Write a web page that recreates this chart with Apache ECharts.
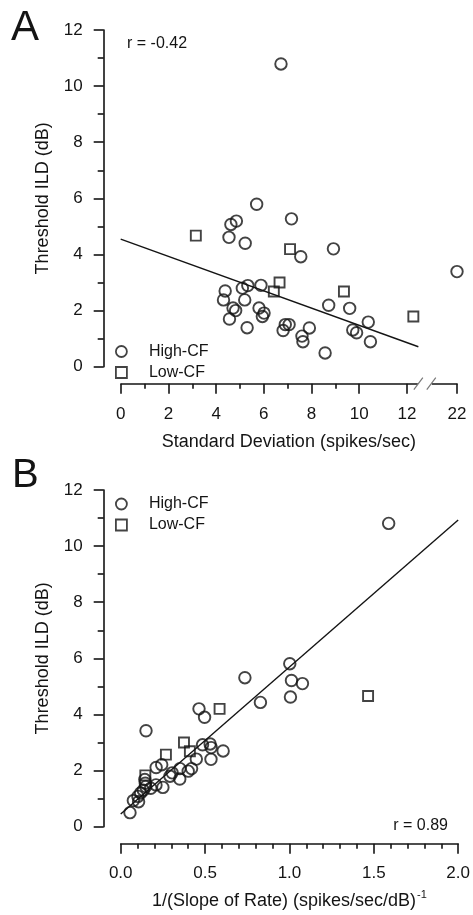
<!DOCTYPE html>
<html><head><meta charset="utf-8">
<script src="https://cdn.jsdelivr.net/npm/echarts@6/dist/echarts.min.js"></script>
<style>html,body{margin:0;padding:0;background:#fff}#c{width:473px;height:915px}</style>
</head><body><div id="c"></div>
<script>
// ---- Panel A: Threshold ILD vs Standard Deviation ----
const aHighCF = [
  [4.54,4.61],[4.62,5.07],[4.85,5.19],[5.70,5.79],[7.16,5.27],[6.72,10.79],
  [5.22,4.40],[7.55,3.92],[8.92,4.20],[22,3.39],[4.38,2.70],[4.31,2.38],
  [5.10,2.80],[5.33,2.89],[5.88,2.90],[5.20,2.38],[4.71,2.09],[4.82,2.00],
  [4.56,1.70],[5.80,2.09],[6.01,1.91],[5.94,1.79],[5.30,1.39],[6.90,1.50],
  [7.06,1.50],[6.81,1.29],[7.91,1.38],[7.60,1.09],[7.64,0.89],[8.57,0.49],
  [8.72,2.19],[9.60,2.08],[10.38,1.59],[9.73,1.31],[9.89,1.21],[10.47,0.89]
];
const aLowCF = [[3.15,4.67],[7.10,4.19],[6.66,3.00],[6.42,2.68],[9.36,2.68],[12.27,1.79]];
const aFit = [[0,4.55],[12.48,0.71]];
const aXTicks = [0,2,4,6,8,10,12,22];
const aBreak = {start:12.5, end:20.9};
const aR = 'r = -0.42';

// ---- Panel B: Threshold ILD vs 1/(Slope of Rate) ----
const bHighCF = [
  [1.588,10.81],[0.736,5.31],[1.002,5.81],[1.012,5.21],[1.077,5.10],[1.006,4.62],
  [0.828,4.43],[0.464,4.20],[0.497,3.90],[0.150,3.42],[0.485,2.92],[0.530,2.95],
  [0.536,2.82],[0.607,2.70],[0.535,2.40],[0.448,2.41],[0.210,2.11],[0.243,2.21],
  [0.351,2.07],[0.420,2.07],[0.400,1.98],[0.305,1.92],[0.292,1.80],[0.350,1.70],
  [0.250,1.40],[0.055,0.50],[0.075,0.93],[0.106,0.89],[0.102,1.08],[0.118,1.20],
  [0.134,1.30],[0.148,1.43],[0.146,1.55],[0.178,1.37],[0.209,1.49],[0.143,1.68]
];
const bLowCF = [[1.466,4.66],[0.586,4.20],[0.375,3.00],[0.410,2.69],[0.268,2.57],[0.146,1.83]];
const bFit = [[0,0.45],[2.0,10.93]];
const bR = 'r = 0.89';

const yTicks = [0,2,4,6,8,10,12];
const seriesNames = ['High-CF','Low-CF'];

const INK = '#141414';
const FONT = '"Liberation Sans", Arial, Helvetica, sans-serif';

const chart = echarts.init(document.getElementById('c'), null, {renderer:'canvas'});

function yAxis(gi){
  return {
    gridIndex: gi, type:'value', min: yTicks[0], max: yTicks[yTicks.length-1], interval: 2,
    offset: 17,
    axisLine:{show:true, onZero:false, lineStyle:{color:INK, width:1.6}},
    axisTick:{show:true, length:10, lineStyle:{color:INK, width:1.6}},
    minorTick:{show:true, splitNumber:2, length:6, lineStyle:{color:INK, width:1.6}},
    axisLabel:{margin:21, fontSize:17, color:INK, fontFamily:FONT},
    splitLine:{show:false},
    name:'Threshold ILD (dB)', nameLocation:'middle', nameGap:52, nameRotate:90,
    nameTextStyle:{fontSize:18, color:INK, fontFamily:FONT}
  };
}

const symStyle = {color:'rgba(0,0,0,0)', borderColor:INK, borderWidth:1.9};

function legend(top){
  return {data:seriesNames, orient:'vertical', left:115, top:top, padding:0,
    itemWidth:11, itemHeight:11, itemGap:5, selectedMode:false,
    itemStyle:{borderWidth:1.8},
    textStyle:{fontSize:16, color:INK, fontFamily:FONT, padding:[0,0,0,17]}};
}

const baseGraphic = [
  {type:'text', left:11, top:7, style:{text:'A', fontSize:42, fill:INK, fontFamily:FONT}},
  {type:'text', left:12, top:456, style:{text:'B', fontSize:40, fill:INK, fontFamily:FONT}},
  {type:'text', left:127, top:36, style:{text:aR, fontSize:16, fill:INK, fontFamily:FONT}},
  {type:'text', right:25, top:818, style:{text:bR, fontSize:16, fill:INK, fontFamily:FONT}}
];

const option = {
  animation:false,
  backgroundColor:'#fff',
  textStyle:{fontFamily:FONT},
  grid:[
    {left:120.7, top:30, width:336.3, height:336.7},
    {left:120.7, top:490, width:338, height:336.7}
  ],
  xAxis:[
    {
      gridIndex:0, type:'value', min:0, max:22, interval:2, offset:17,
      breaks:[{start:aBreak.start, end:aBreak.end, gap:0.5}],
      breakArea:{show:false},
      axisLine:{show:true, onZero:false, lineStyle:{color:INK, width:1.6}},
      axisTick:{show:true, length:10, lineStyle:{color:INK, width:1.6}, customValues: aXTicks},
      minorTick:{show:true, splitNumber:2, length:5, lineStyle:{color:INK, width:1.6}},
      axisLabel:{margin:22, fontSize:17, color:INK, fontFamily:FONT, customValues: aXTicks},
      splitLine:{show:false},
      name:'Standard Deviation (spikes/sec)', nameLocation:'middle', nameGap:49,
      nameTextStyle:{fontSize:18, color:INK, fontFamily:FONT}
    },
    {
      gridIndex:1, type:'value', min:0, max:2, interval:0.5, offset:17,
      axisLine:{show:true, onZero:false, lineStyle:{color:INK, width:1.6}},
      axisTick:{show:true, length:10, lineStyle:{color:INK, width:1.6}},
      minorTick:{show:true, splitNumber:5, length:5, lineStyle:{color:INK, width:1.6}},
      axisLabel:{margin:21, fontSize:17, color:INK, fontFamily:FONT, formatter:v=>v.toFixed(1)},
      splitLine:{show:false},
      name:'1/(Slope of Rate) (spikes/sec/dB){sup|-1}', nameLocation:'middle', nameGap:46,
      nameTextStyle:{fontSize:18, color:INK, fontFamily:FONT,
        rich:{sup:{fontSize:11, color:INK, fontFamily:FONT, verticalAlign:'top', padding:[0,0,12,1]}}}
    }
  ],
  yAxis:[yAxis(0), yAxis(1)],
  legend:[legend(343.5), legend(496)],
  series:[
    {name:seriesNames[0], type:'scatter', xAxisIndex:0, yAxisIndex:0, data:aHighCF,
     symbol:'circle', symbolSize:11.5, itemStyle:symStyle, emphasis:{disabled:true}, z:3},
    {name:seriesNames[1], type:'scatter', xAxisIndex:0, yAxisIndex:0, data:aLowCF,
     symbol:'rect', symbolSize:10, itemStyle:symStyle, emphasis:{disabled:true}, z:3},
    {name:'fitA', type:'line', xAxisIndex:0, yAxisIndex:0, data:aFit, showSymbol:false,
     lineStyle:{color:INK, width:1.4}, emphasis:{disabled:true}, z:2},
    {name:seriesNames[0], type:'scatter', xAxisIndex:1, yAxisIndex:1, data:bHighCF,
     symbol:'circle', symbolSize:11.5, itemStyle:symStyle, emphasis:{disabled:true}, z:3},
    {name:seriesNames[1], type:'scatter', xAxisIndex:1, yAxisIndex:1, data:bLowCF,
     symbol:'rect', symbolSize:10, itemStyle:symStyle, emphasis:{disabled:true}, z:3},
    {name:'fitB', type:'line', xAxisIndex:1, yAxisIndex:1, data:bFit, showSymbol:false,
     lineStyle:{color:INK, width:1.4}, emphasis:{disabled:true}, z:2}
  ],
  graphic: baseGraphic
};
chart.setOption(option);

// axis-break marks ("//") on panel A's x axis
const xs = chart.convertToPixel({xAxisIndex:0}, aBreak.start);
const xe = chart.convertToPixel({xAxisIndex:0}, aBreak.end);
const y0 = chart.convertToPixel({yAxisIndex:0}, 0) + 17;
chart.setOption({graphic: baseGraphic.concat([
  {type:'rect', shape:{x:xs-1, y:y0-3, width:xe-xs+2, height:6}, style:{fill:'#fff'}, z:100},
  {type:'line', shape:{x1:xs-5, y1:y0+6, x2:xs+4, y2:y0-6}, style:{stroke:'#777', lineWidth:1.2}, z:101},
  {type:'line', shape:{x1:xe-4, y1:y0+6, x2:xe+5, y2:y0-6}, style:{stroke:'#777', lineWidth:1.2}, z:101}
])}, {replaceMerge:['graphic']});
</script></body></html>
